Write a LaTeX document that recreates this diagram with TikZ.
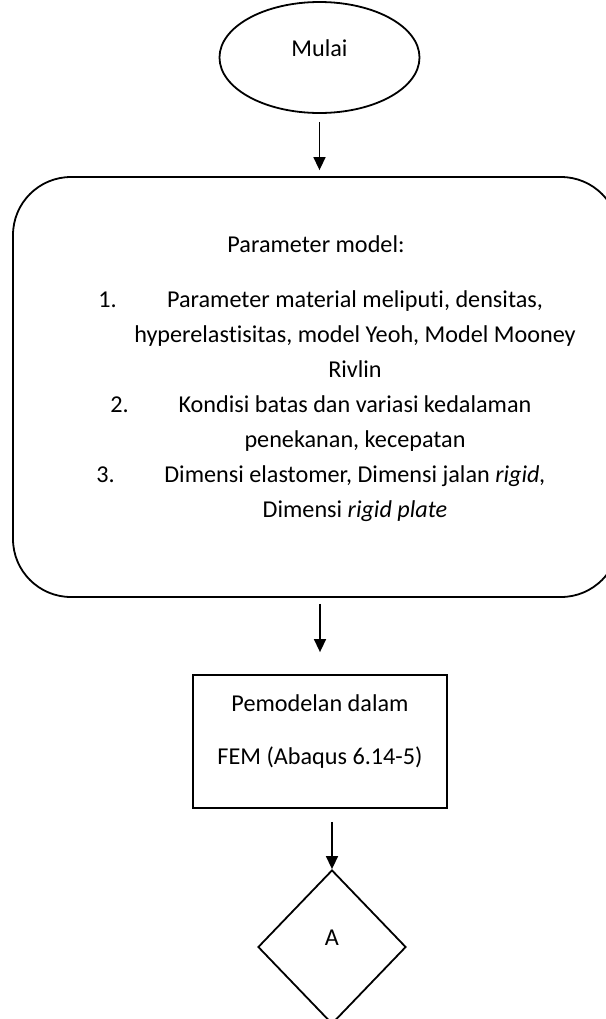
\documentclass[tikz,border=0pt]{standalone}
\usepackage{fontspec}
\setmainfont{Carlito}[Ligatures=NoCommon]
\usepackage{tikz}
\usetikzlibrary{shapes.geometric, arrows.meta, positioning}
\tikzset{
    box/.style={rectangle, draw, line width=0.9pt, align=center},
    arrow/.style={line width=0.75pt, -{Triangle[length=6.5pt, width=6pt]}}
}

\begin{document}
\begin{tikzpicture}[x=0.5pt, y=-0.5pt, font=\fontsize{12.1}{17.5}\selectfont,
    terminal/.style={ellipse, draw, line width=0.9pt, minimum width=100pt, minimum height=55.5pt, text depth=9pt},
    listtext/.style={inner sep=0pt, align=center, anchor=base},
    decision/.style={diamond, draw, line width=0.9pt, minimum width=74pt, minimum height=77pt, inner sep=0pt, text depth=9.5pt}]

    \useasboundingbox (0,0) rectangle (606,1019);
    \clip (0,0) rectangle (606,1019);

    \node (start) [terminal] at (319.5,57.5) {Mulai};
    \node (param) [box, rounded corners=29pt, minimum width=303pt, minimum height=210pt] at (316,387) {};
    \node (title) [listtext] at (316,252) {Parameter model:};
    \node (num1) [listtext, anchor=base west] at (98,307) {1.};
    \node (item1) [listtext] at (355,377) {Parameter material meliputi, densitas,\\hyperelastisitas, model Yeoh, Model Mooney\\Rivlin};
    \node (num2) [listtext, anchor=base west] at (110,412) {2.};
    \node (item2) [listtext] at (355,447) {Kondisi batas dan variasi kedalaman\\penekanan, kecepatan};
    \node (num3) [listtext, anchor=base west] at (96,482) {3.};
    \node (item3) [listtext] at (355,517) {Dimensi elastomer, Dimensi jalan \textit{rigid,}\\Dimensi \textit{rigid plate}};
    \node (fem) [box, minimum width=127pt, minimum height=66.5pt, font=\fontsize{12.1}{26.5}\selectfont, text depth=12pt] at (320,741.5) {Pemodelan dalam\\FEM (Abaqus 6.14-5)};
    \node (a) [decision] at (332,947) {A};

    \draw [arrow, shorten <=4pt, shorten >=3pt] (start.south) -- (start.south |- param.north);
    \draw [arrow, shorten <=3pt, shorten >=11pt] (param.south -| fem.north) -- (fem.north);
    \draw [arrow, shorten <=6.5pt] (fem.south -| a.north) -- (a.north);
\end{tikzpicture}
\end{document}
